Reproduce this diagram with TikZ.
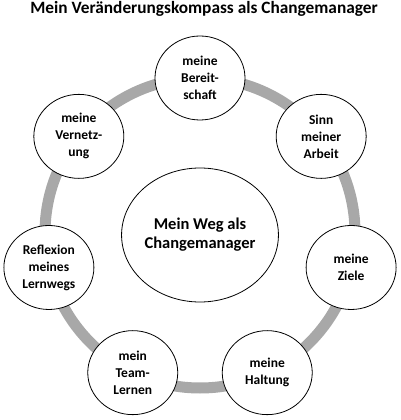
\documentclass[tikz,border=0pt]{standalone}
\usepackage{fontspec}
\setmainfont{Carlito}
\usetikzlibrary{shapes.geometric}

\begin{document}
\begin{tikzpicture}[x=1pt, y=1pt, line join=round, line cap=round,
    station/.style={ellipse, draw, fill=white, line width=0.8pt,
      minimum width=90pt, minimum height=84pt, inner sep=0pt,
      align=center, font=\bfseries\fontsize{13.5}{17}\selectfont},
    hub/.style={ellipse, draw, fill=white, line width=0.8pt,
      minimum width=152pt, minimum height=134pt, inner sep=0pt,
      align=center, font=\bfseries\fontsize{16.5}{19}\selectfont},
    ring/.style={gray!68, line width=11pt}]
  \def\R{155}
  \def\n{7}
  \useasboundingbox (-200,-187) rectangle (200,233);

  \node[anchor=base, font=\bfseries\fontsize{17.3}{20}\selectfont] (title) at (4,219.5)
    {Mein Veränderungskompass als Changemanager};

  \draw[ring] (0,0) circle (\R);
  \node[hub] (weg) at (0,-2) {Mein Weg als\\Changemanager};

  \foreach \txt [count=\i] in {{meine\\Bereit-\\schaft}, {Sinn\\meiner\\Arbeit},
      {meine\\Ziele}, {meine\\Haltung}, {mein\\Team-\\Lernen},
      {Reflexion\\meines\\Lernwegs}, {meine\\Vernetz-\\ung}} {
    \node[station] (S\i) at ({90-(\i-1)*360/\n}:\R) {\txt};
  }
\end{tikzpicture}
\end{document}
